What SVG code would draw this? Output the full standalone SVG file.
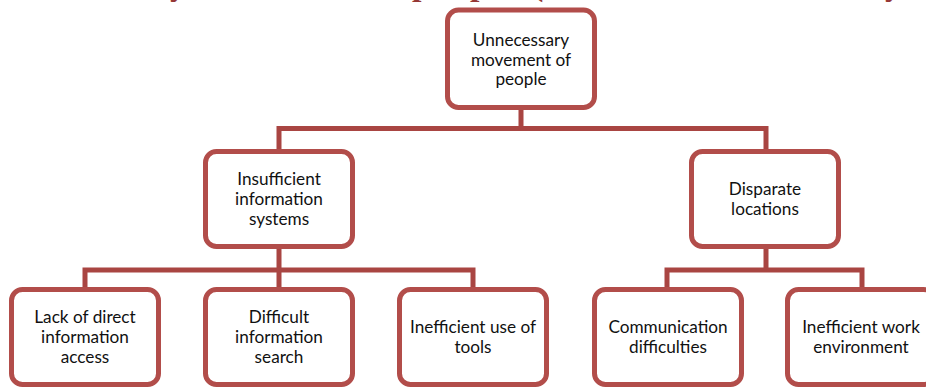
<svg xmlns="http://www.w3.org/2000/svg" width="926" height="388" viewBox="0 0 926 388">
  <style>
    .box { fill: #ffffff; stroke: #B24D4A; stroke-width: 5; }
    .lbl { font-family: Lato, "Liberation Sans", sans-serif; font-size: 17.2px; fill: #111111; text-anchor: middle; }
    .conn { fill: none; stroke: #A94542; stroke-width: 5; stroke-linejoin: miter; }
    .title { font-family: "Liberation Serif", serif; font-weight: bold; font-size: 34px; fill: #953735; }
  </style>
  <rect width="926" height="388" fill="#ffffff"/>
  <text class="title" y="-5"><tspan x="170">y</tspan><tspan x="412">p</tspan><tspan x="470">p</tspan><tspan x="532">(</tspan><tspan x="885">y</tspan></text>
  <g id="connectors">
    <path class="conn" d="M521,110 V128.5 M279,149 V128.5 H766 V149"/>
    <path class="conn" d="M279,249 V287 M85,287 V270 H473 V287"/>
    <path class="conn" d="M766,249 V270 M667,287 V270 H862 V287"/>
  </g>
  <g id="n-root">
    <rect class="box" x="447.5" y="10" width="147" height="97.5" rx="11"/>
    <text class="lbl"><tspan x="521" y="45.5">Unnecessary</tspan><tspan x="521" y="65.5">movement of</tspan><tspan x="521" y="85">people</tspan></text>
  </g>
  <g id="n-info">
    <rect class="box" x="205.5" y="151.5" width="147" height="95" rx="11"/>
    <text class="lbl"><tspan x="279" y="184.5">Insufficient</tspan><tspan x="279" y="204.5">information</tspan><tspan x="279" y="224.5">systems</tspan></text>
  </g>
  <g id="n-disparate">
    <rect class="box" x="691.5" y="151.5" width="147" height="95" rx="11"/>
    <text class="lbl"><tspan x="765" y="195">Disparate</tspan><tspan x="765" y="215">locations</tspan></text>
  </g>
  <g id="n-lack">
    <rect class="box" x="11.5" y="289.5" width="147" height="95" rx="11"/>
    <text class="lbl"><tspan x="85" y="323">Lack of direct</tspan><tspan x="85" y="343">information</tspan><tspan x="85" y="363">access</tspan></text>
  </g>
  <g id="n-search">
    <rect class="box" x="205.5" y="289.5" width="147" height="95" rx="11"/>
    <text class="lbl"><tspan x="279" y="323">Difficult</tspan><tspan x="279" y="343">information</tspan><tspan x="279" y="363">search</tspan></text>
  </g>
  <g id="n-tools">
    <rect class="box" x="399.5" y="289.5" width="147" height="95" rx="11"/>
    <text class="lbl"><tspan x="473" y="333">Inefficient use of</tspan><tspan x="473" y="353">tools</tspan></text>
  </g>
  <g id="n-comm">
    <rect class="box" x="594.5" y="289.5" width="147" height="95" rx="11"/>
    <text class="lbl"><tspan x="668" y="333">Communication</tspan><tspan x="668" y="353">difficulties</tspan></text>
  </g>
  <g id="n-env">
    <rect class="box" x="787.5" y="289.5" width="147" height="95" rx="11"/>
    <text class="lbl"><tspan x="861" y="333">Inefficient work</tspan><tspan x="861" y="353">environment</tspan></text>
  </g>
</svg>
